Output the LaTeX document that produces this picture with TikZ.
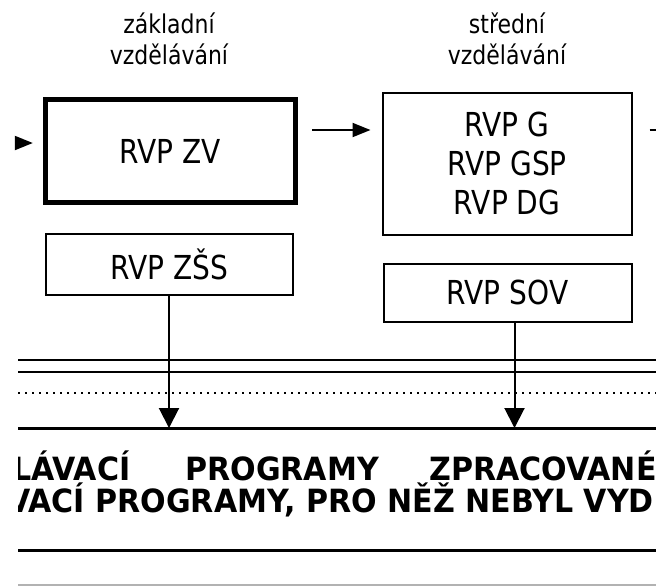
\documentclass[tikz,border=0pt]{standalone}
\usepackage{fontspec}
\setmainfont{DejaVu Sans}
\newfontfamily\narrowfont[FakeStretch=0.85]{DejaVu Sans}
\newfontfamily\bannerfont[FakeStretch=0.94]{DejaVu Sans Bold}
\usetikzlibrary{arrows.meta}

\tikzset{
  rvp/.style={draw, line width=1.5pt, inner sep=0pt, align=center,
    font=\narrowfont\fontsize{24.75}{29.25}\selectfont},
  level/.style={inner sep=0pt, align=center,
    font=\narrowfont\fontsize{19.4}{23.25}\selectfont},
  flow/.style={line width=1.5pt, -{Triangle[length=13.5pt,width=10.5pt]}},
  drop/.style={line width=1.5pt, -{Triangle[length=15pt,width=15pt]}},
  rule/.style={line width=1.9pt},
  banner/.style={inner sep=0pt, anchor=base west,
    font=\bannerfont\fontsize{24}{24}\selectfont},
}

\begin{document}
\begin{tikzpicture}[x=0.75pt,y=0.75pt,yscale=-1,xscale=1]
\useasboundingbox (0,0) rectangle (656,587);

% level headings
\node[level] (zakl) at (169,39) {základní\\vzdělávání};
\node[level] (stred) at (507,39) {střední\\vzdělávání};

% boxes
\node[rvp, line width=4pt, minimum width=187.5pt, minimum height=77.25pt] (zv) at (170.5,151) {RVP ZV};
\node[rvp, minimum width=186.75pt, minimum height=106.5pt] (g) at (507,163.5) {RVP G\\RVP GSP\\RVP DG};
\node[rvp, minimum width=185.25pt, minimum height=45.75pt] (zss) at (169,264) {RVP ZŠS};
\node[rvp, minimum width=186pt, minimum height=43.5pt] (sov) at (507.5,292.5) {RVP SOV};

% cut connectors along the top row
\coordinate (in) at (15,143);
\coordinate (mid) at (0,130);
\coordinate (out) at (656,130);
\draw[flow, shorten >=7.5pt] (in) -- (in -| zv.west);
\draw[flow, shorten <=10.5pt, shorten >=8.25pt] (zv.east |- mid) -- (g.west |- mid);
\draw[line width=1.5pt, shorten <=12.75pt] (g.east |- out) -- (out);

% rules
\coordinate (target) at (18,428);
\draw[rule] (18,360) -- (656,360);
\draw[rule] (18,372) -- (656,372);
\draw[line width=1.8pt, dash pattern=on 1.8pt off 3.45pt] (18,393) -- (656,393);
\draw[rule, line width=2.25pt] (target) -- (656,428);
\draw[rule, line width=2.25pt] (18,550) -- (656,550);
\draw[rule, gray!60] (18,585) -- (656,585);

\draw[drop] (zss.south) -- (zss.south |- target);
\draw[drop] ([xshift=5.25pt]sov.south) -- ([xshift=5.25pt]sov.south |- target);

% banner text, cut at the edges
\begin{scope}
\clip (18,440) rectangle (656,530);
\node[banner] (w1) at (12,480) {LÁVACÍ};
\node[banner] (w2) at (185,480) {PROGRAMY};
\node[banner] (w3) at (429,480) {ZPRACOVANÉ};
\node[banner] (w4) at (7,512) {VACÍ PROGRAMY, PRO NĚŽ NEBYL VYD};
\end{scope}

\end{tikzpicture}
\end{document}
